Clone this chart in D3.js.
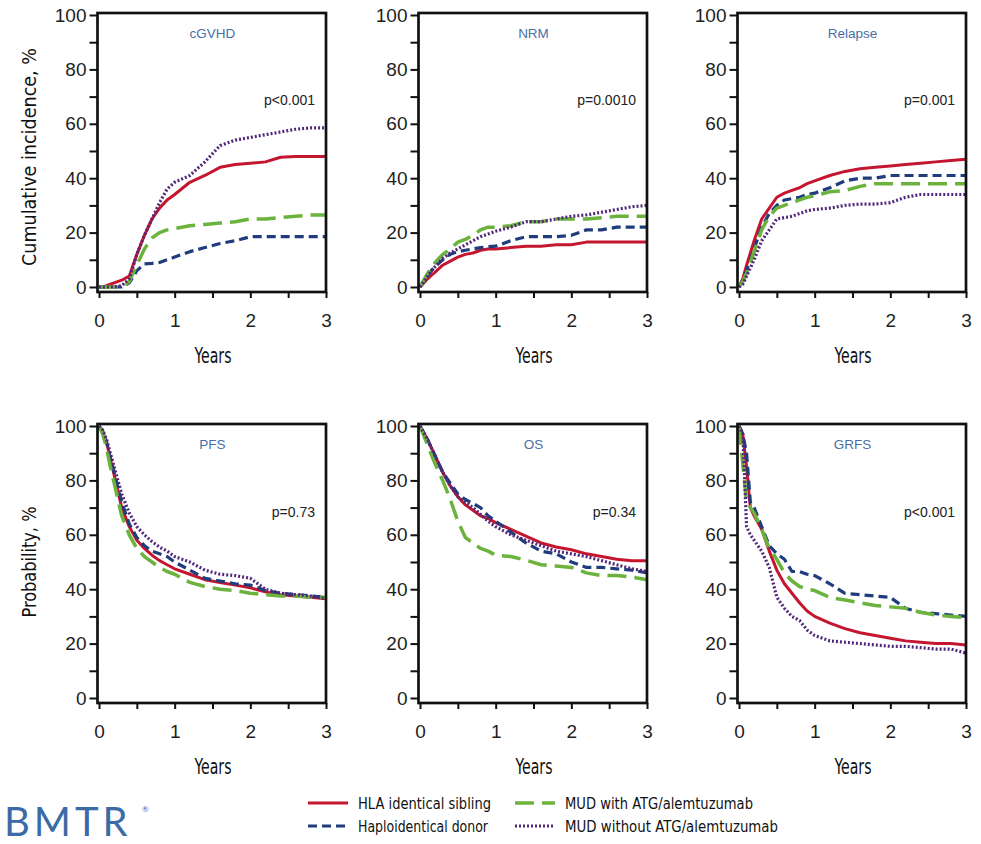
<!DOCTYPE html>
<html>
<head>
<meta charset="utf-8">
<script src="https://cdn.jsdelivr.net/npm/d3@7"></script>
<style>
  body { margin: 0; background: #fff; }
  svg { display: block; }
  .tick text { font-family: "Liberation Sans", Arial, sans-serif; font-size: 19px; fill: #1e1e1e; }
  .narrow { font-family: "Liberation Sans Narrow", "DejaVu Sans Condensed", sans-serif; fill: #111; }
</style>
</head>
<body>
<svg id="chart" width="981" height="844"></svg>
<script>
// time points (years) shared by every curve
const years = [0, 0.05, 0.1, 0.15, 0.2, 0.3, 0.4, 0.5, 0.6, 0.7, 0.8, 0.9, 1.0, 1.2, 1.4, 1.6, 1.8, 2.0, 2.2, 2.4, 2.6, 2.8, 3.0]

const groups = ['HLA identical sibling', 'Haploidentical donor', 'MUD with ATG/alemtuzumab', 'MUD without ATG/alemtuzumab']
const panelTitles = ['cGVHD', 'NRM', 'Relapse', 'PFS', 'OS', 'GRFS']
const pValues = ['p<0.001', 'p=0.0010', 'p=0.001', 'p=0.73', 'p=0.34', 'p<0.001']
const yTitles = ['Cumulative incidence, %', 'Probability, %']
const xTicks = [0, 0.5, 1, 1.5, 2, 2.5, 3]
const yTicks = [0, 10, 20, 30, 40, 50, 60, 70, 80, 90, 100]

// order in each panel: sibling, haplo, MUD with ATG, MUD without ATG
const cgvhd = [
    [0, 0, 0.5, 1, 1.5, 2.5, 4, 12, 19, 25, 29, 32, 34, 38.5, 41, 44, 45, 45.5, 46, 47.7, 48, 48, 48],
    [0, 0, 0, 0, 0, 0, 1.5, 6, 8.5, 8.7, 9, 10, 11, 13, 14.5, 16, 17, 18.5, 18.5, 18.5, 18.5, 18.5, 18.5],
    [0, 0, 0, 0, 0, 0, 2, 8, 14, 18, 20, 21, 21.5, 22.5, 23, 23.5, 24, 25, 25, 25.5, 26, 26.5, 26.5],
    [0, 0, 0, 0, 0, 0.5, 3, 12, 19, 25, 31, 36, 38.5, 41, 46, 52, 54, 55, 56, 57, 58, 58.5, 58.5]
]
const nrm = [
    [0, 1.5, 3, 4.3, 5.5, 8, 9.5, 11, 12, 12.5, 13.5, 14, 14, 14.5, 15, 15, 15.5, 15.5, 16.5, 16.5, 16.5, 16.5, 16.5],
    [0, 2, 4, 6, 7.5, 10, 12, 13, 13.5, 14, 14.5, 14.8, 15, 17, 18.5, 18.5, 18.5, 19, 21, 21, 22, 22, 22],
    [0, 2.5, 5, 7, 9, 12, 14, 16.5, 17.5, 19, 21, 22, 22, 22.5, 24, 24, 25, 25, 25, 25.5, 26, 26, 26],
    [0, 2, 4, 6, 7.5, 10.5, 12.5, 14, 15.5, 17, 18.5, 19.5, 20.5, 22, 24, 24, 25, 26, 26.5, 27.5, 28.5, 29.5, 30]
]
const relapse = [
    [0, 3, 8, 12.5, 17, 25, 29, 33, 34.5, 35.5, 36.5, 38, 39, 41, 42.5, 43.5, 44, 44.5, 45, 45.5, 46, 46.5, 47],
    [0, 2.5, 6, 10, 14, 22, 27, 30, 32, 32.5, 33, 34, 34.5, 36.5, 39, 40, 40, 41, 41, 41, 41, 41, 41],
    [0, 2, 5, 9, 13, 21, 26, 29, 30, 31, 32, 33, 33.5, 35, 35.5, 37, 38, 38, 38, 38, 38, 38, 38],
    [0, 1, 4, 7, 10, 17, 21, 25, 25.5, 26, 27, 28, 28.5, 29, 30, 30.5, 30.5, 31, 33, 34, 34, 34, 34]
]
const pfs = [
    [100, 98, 94, 88, 82, 70, 63, 58, 55, 52.5, 50.5, 49, 47.5, 45.5, 43.5, 42.5, 41.5, 40.5, 39, 38, 37.5, 37, 36.5],
    [100, 98, 94, 88.5, 83, 72, 64, 59, 56, 54, 53, 52, 50, 47, 44, 43, 42, 41.5, 39.5, 38.5, 38, 37.5, 37],
    [100, 97, 92, 85, 79, 67, 60, 55, 52, 50, 48, 46.5, 45.5, 42.5, 41, 40, 39.5, 38.5, 38, 37.5, 37.5, 37, 37],
    [100, 98.5, 95, 90, 85, 75, 68, 63, 60, 57.5, 55.5, 54, 52, 50, 47, 45.5, 45, 44, 40, 38.5, 38, 37.5, 36.5]
]
const os = [
    [100, 97.5, 95, 92, 89, 83, 78, 74, 71, 69, 67, 66, 64.5, 62, 59.5, 57, 55.5, 54.5, 53, 52, 51, 50.5, 50.5],
    [100, 97.5, 95, 92, 89, 83, 79, 75, 73, 71.5, 70, 67, 65, 61, 57, 54, 53, 50, 48, 48, 47.5, 47, 46],
    [100, 96.5, 93, 89.5, 86, 80, 73, 65, 59, 57, 55, 54, 52.5, 52, 50.7, 49, 48.5, 48, 46, 45, 45, 44.5, 43.5],
    [100, 97.5, 95, 92, 89, 83, 78, 74, 72, 70, 67.5, 65, 63, 60, 58, 56, 54, 53, 52, 50.5, 49, 47.5, 46.5]
]
const grfs = [
    [100, 97, 85, 70, 67, 62, 54, 47, 42, 38.5, 35, 32, 30, 27.5, 25.5, 24, 23, 22, 21, 20.5, 20, 20, 19.5],
    [100, 97, 90, 72, 70, 63, 56, 53, 51, 46.5, 46.5, 45.5, 45, 42, 38.5, 38, 37.5, 37, 33, 31.5, 31, 30.5, 30],
    [100, 86, 72, 70, 68, 62, 55, 51, 46, 43, 41, 40, 39.5, 37, 36, 35, 34, 33.5, 33, 31.5, 30.5, 30, 29.5],
    [100, 97, 63, 60, 58, 54, 48, 37, 33, 30, 28.5, 25, 23, 21, 20.5, 20, 19.5, 19, 19, 18.5, 18, 18, 16.5]
]

const panelData = [cgvhd, nrm, relapse, pfs, os, grfs]

// line styles, one per group
const colors = ['#c4162f', '#1f3d7d', '#6cb33e', '#51287a']
const dashes = [null, '9,5', '19,8', '2,2']
const widths = [3, 3.2, 3.5, 3.2]

const svg = d3.select('#chart')

const colX = [99, 420, 739]
const rowTop = [15, 426]
const plotW = 227
const plotH = 272

const line = d3.line()

panelData.forEach((series, i) => {
    const row = Math.floor(i / 3)
    const col = i % 3
    const x0 = colX[col]
    const yTop = rowTop[row]

    const x = d3.scaleLinear().domain([0, 3]).range([x0, x0 + plotW])
    const y = d3.scaleLinear().domain([0, 100]).range([yTop + plotH, yTop])

    const g = svg.append('g').attr('class', 'panel')

    const left = x(0) - 1.5
    const bottom = y(0) + 5

    // y axis
    g.append('g')
        .attr('transform', `translate(${left},0)`)
        .call(d3.axisLeft(y).tickValues(yTicks).tickSize(8).tickPadding(3)
            .tickFormat(d => d % 20 === 0 ? d : ''))
        .call(a => a.select('.domain').remove())
        .call(a => a.selectAll('line').attr('stroke', '#111').attr('stroke-width', 2))

    // x axis
    g.append('g')
        .attr('transform', `translate(0,${bottom})`)
        .call(d3.axisBottom(x).tickValues(xTicks).tickSize(6).tickPadding(16)
            .tickFormat(d => Number.isInteger(d) ? d : ''))
        .call(a => a.select('.domain').remove())
        .call(a => a.selectAll('line').attr('stroke', '#111').attr('stroke-width', 2))

    // curves
    line.x((d, k) => x(years[k])).y(d => y(d))
    g.selectAll('path.curve')
        .data(series)
        .join('path')
        .attr('class', 'curve')
        .attr('d', d => line(d))
        .attr('fill', 'none')
        .attr('stroke', (d, k) => colors[k])
        .attr('stroke-width', (d, k) => widths[k])
        .attr('stroke-dasharray', (d, k) => dashes[k])
        .attr('stroke-linejoin', 'round')

    // frame
    g.append('rect')
        .attr('x', left)
        .attr('y', y(100) - 2)
        .attr('width', x(3) - left)
        .attr('height', bottom - (y(100) - 2))
        .attr('fill', 'none')
        .attr('stroke', '#111')
        .attr('stroke-width', 2.7)

    g.append('text')
        .attr('x', (x(0) + x(3)) / 2)
        .attr('y', y(100) + 23)
        .attr('text-anchor', 'middle')
        .attr('font-family', '"Liberation Sans", Arial, sans-serif')
        .attr('font-size', 13.5)
        .attr('fill', '#4a6fa8')
        .text(panelTitles[i])

    g.append('text')
        .attr('x', x(3) - 11)
        .attr('y', row === 0 ? 105 : 517)
        .attr('text-anchor', 'end')
        .attr('font-family', '"Liberation Sans", Arial, sans-serif')
        .attr('font-size', 14)
        .attr('fill', '#222')
        .text(pValues[i])

    g.append('text')
        .attr('class', 'narrow')
        .attr('x', (x(0) + x(3)) / 2 - 18)
        .attr('y', bottom + 71)
        .attr('font-size', 21)
        .attr('textLength', 37)
        .attr('lengthAdjust', 'spacingAndGlyphs')
        .text('Years')
})

// y titles
const yTitleLen = [218, 111]
yTitles.forEach((t, r) => {
    const cy = r === 0 ? 157 : 562
    svg.append('text')
        .attr('class', 'narrow')
        .attr('transform', `translate(36,${cy}) rotate(-90)`)
        .attr('x', -yTitleLen[r] / 2)
        .attr('font-size', 20)
        .attr('textLength', yTitleLen[r])
        .attr('lengthAdjust', 'spacingAndGlyphs')
        .text(t)
})

// legend
const legX = [308, 515]
const legY = [803, 826]
const legLen = [133, 130, 188, 213]
groups.forEach((name, k) => {
    const lx = legX[Math.floor(k / 2)]
    const ly = legY[k % 2]
    const lg = svg.append('g')
    lg.append('line')
        .attr('x1', lx).attr('x2', lx + 40)
        .attr('y1', ly).attr('y2', ly)
        .attr('stroke', colors[k])
        .attr('stroke-width', widths[k])
        .attr('stroke-dasharray', dashes[k])
    lg.append('text')
        .attr('class', 'narrow')
        .attr('x', lx + 50)
        .attr('y', ly + 5.5)
        .attr('font-size', 15)
        .attr('textLength', legLen[k])
        .attr('lengthAdjust', 'spacingAndGlyphs')
        .text(name)
})

// logo at the bottom left
svg.append('text')
    .attr('x', 4)
    .attr('y', 836)
    .attr('font-family', 'Lato, "Open Sans", sans-serif')
    .attr('font-size', 40)
    .attr('letter-spacing', 4)
    .attr('fill', '#3c6aa6')
    .text('BMTR')
svg.append('text')
    .attr('x', 142)
    .attr('y', 812)
    .attr('font-family', 'Lato, sans-serif')
    .attr('font-size', 8)
    .attr('fill', '#3c6aa6')
    .text('®')
</script>
</body>
</html>
